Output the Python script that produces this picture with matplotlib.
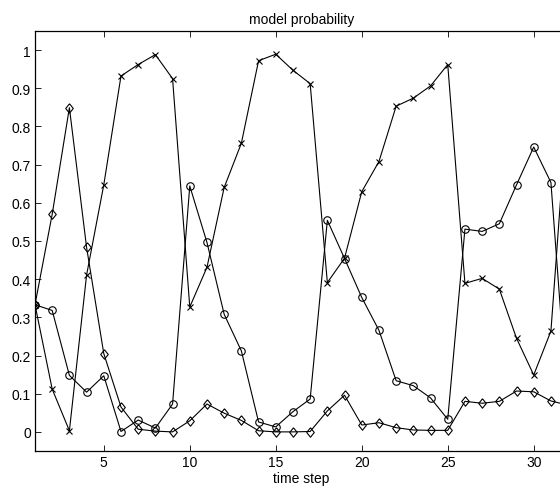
import numpy as np
import matplotlib
matplotlib.use("Agg")
import matplotlib.pyplot as plt

# time steps
t = np.arange(1, 33)

# probability of each model
p_cross = [0.333, 0.112, 0.003, 0.411, 0.647, 0.932, 0.962, 0.988, 0.925, 0.327,
           0.431, 0.640, 0.756, 0.972, 0.989, 0.947, 0.912, 0.391, 0.455, 0.629,
           0.708, 0.853, 0.874, 0.906, 0.962, 0.389, 0.402, 0.374, 0.245, 0.149,
           0.264, 0.88]
p_circle = [0.333, 0.318, 0.148, 0.104, 0.147, 0.001, 0.031, 0.010, 0.073, 0.644,
            0.496, 0.308, 0.212, 0.026, 0.013, 0.053, 0.086, 0.554, 0.454, 0.352,
            0.266, 0.134, 0.121, 0.089, 0.033, 0.531, 0.525, 0.545, 0.647, 0.746,
            0.653, 0.05]
p_diamond = [0.333, 0.570, 0.849, 0.483, 0.205, 0.065, 0.007, 0.002, 0.000, 0.029,
             0.073, 0.049, 0.030, 0.003, 0.000, 0.000, 0.001, 0.055, 0.096, 0.018,
             0.024, 0.011, 0.005, 0.004, 0.004, 0.080, 0.075, 0.080, 0.107, 0.105,
             0.081, 0.07]

plt.rcParams['font.family'] = ['Liberation Sans', 'DejaVu Sans']

# matlab-like diamond, a bit taller than wide
diamond = [(0, 1), (0.8, 0), (0, -1), (-0.8, 0), (0, 1)]

fig = plt.figure(figsize=(5.6, 4.89), dpi=100)
# the right side of the axes runs past the figure edge, as in the original
ax = fig.add_axes([0.0625, 0.0757, 0.952, 0.859])

ax.plot(t, p_cross, color='k', lw=0.8, marker='x', ms=4, mew=0.8)
ax.plot(t, p_circle, color='k', lw=0.8, marker='o', ms=5.4, mfc='none', mew=0.8)
ax.plot(t, p_diamond, color='k', lw=0.8, marker=diamond, ms=6.8, mfc='none', mew=0.8)

ax.set_xlim(1, 32)
ax.set_ylim(-0.05, 1.05)
ax.set_xticks([5, 10, 15, 20, 25, 30])
ax.set_yticks(np.arange(0, 1.01, 0.1))
ax.set_yticklabels(['0', '0.1', '0.2', '0.3', '0.4', '0.5', '0.6', '0.7', '0.8', '0.9', '1'])
ax.tick_params(direction='in', top=True, right=True, length=4, width=0.6,
               labelsize=10, pad=3)
for s in ax.spines.values():
    s.set_linewidth(0.9)

ax.set_title('model probability', fontsize=10, pad=6)
ax.set_xlabel('time step', fontsize=10, labelpad=1)

fig.savefig('out.png', dpi=100)
